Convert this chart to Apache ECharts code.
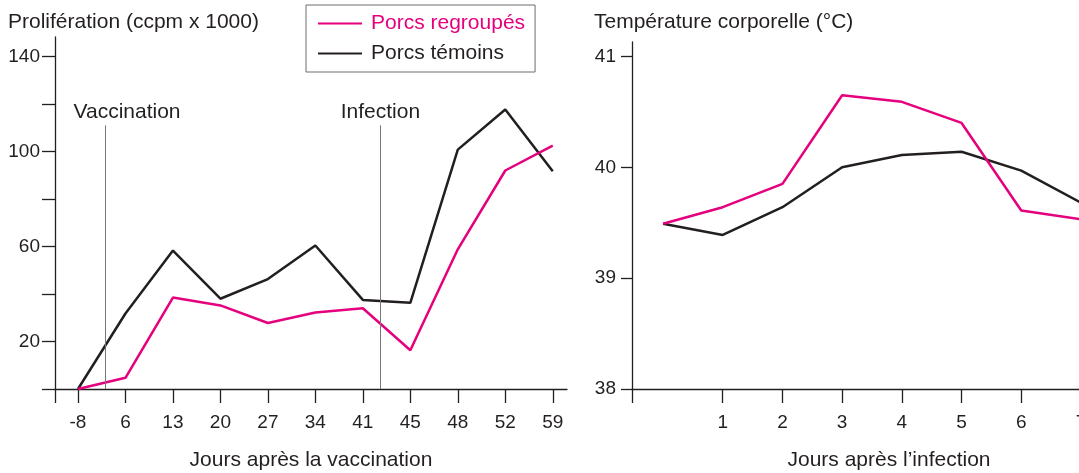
<!DOCTYPE html>
<html>
<head>
<meta charset="utf-8">
<script src="https://cdn.jsdelivr.net/npm/echarts@6/dist/echarts.min.js"></script>
<style>
  html, body { margin: 0; padding: 0; background: #fff; }
  #chart { width: 1079px; height: 473px; }
</style>
</head>
<body>
<div id="chart"></div>
<script>
// left panel: proliferation vs days after vaccination
const joursVaccination = ['-8', '6', '13', '20', '27', '34', '41', '45', '48', '52', '59'];
const prolifRegroupes = [0, 4.7, 38.5, 35.2, 27.8, 32.2, 34, 16.3, 58.8, 92, 102.5];
const prolifTemoins = [0, 31.8, 58.3, 38, 46.3, 60.4, 37.5, 36.3, 100.8, 117.7, 91.7];
const prolifTicks = [0, 20, 40, 60, 80, 100, 120, 140];
const prolifLabels = [20, 60, 100, 140];

// right panel: body temperature vs days after infection
const joursInfection = [0, 1, 2, 3, 4, 5, 6, 7];
const tempRegroupes = [39.49, 39.64, 39.85, 40.65, 40.59, 40.4, 39.61, 39.53];
const tempTemoins = [39.49, 39.39, 39.64, 40.0, 40.11, 40.14, 39.97, 39.68];
const tempTicks = [38, 39, 40, 41];
const tempXTicks = [1, 2, 3, 4, 5, 6, 7];

// events on the left panel (position in category index units)
const evenements = [
  { nom: 'Vaccination', x: 0.57, offset: 22 },
  { nom: 'Infection', x: 6.37, offset: 0 }
];

const PINK = '#e5007d';
const BLACK = '#231f20';
const FONT = 'Liberation Sans, Arial, sans-serif';
const FS = 21;

const chart = echarts.init(document.getElementById('chart'));

const xIdx = joursVaccination.map((_, i) => i);

const option = {
  animation: false,
  textStyle: { fontFamily: FONT, color: BLACK },
  title: [
    { text: 'Prolifération (ccpm x 1000)', left: 3, top: 7,
      textStyle: { fontFamily: FONT, fontSize: FS, fontWeight: 'normal', color: BLACK } },
    { text: 'Température corporelle (°C)', left: 589, top: 7,
      textStyle: { fontFamily: FONT, fontSize: FS, fontWeight: 'normal', color: BLACK } }
  ],
  legend: {
    left: 306, top: 5,
    orient: 'vertical',
    itemWidth: 44, itemHeight: 2, itemGap: 9,
    icon: 'rect',
    borderColor: '#6d6d6d', borderWidth: 1,
    padding: [8, 10, 8, 12],
    textStyle: { fontFamily: FONT, fontSize: FS, padding: [0, 0, 0, 4] },
    data: [
      { name: 'Porcs regroupés', textStyle: { color: PINK } },
      { name: 'Porcs témoins', textStyle: { color: BLACK } }
    ]
  },
  grid: [
    { left: 55, top: 37, width: 512, bottom: 84, containLabel: false, outerBoundsMode: 'none' },
    { left: 632, top: 42, width: 480, bottom: 84, containLabel: false, outerBoundsMode: 'none' }
  ],
  xAxis: [
    {
      type: 'value', gridIndex: 0, min: -0.484, max: 10.3,
      splitLine: { show: false },
      axisLine: { onZero: false, lineStyle: { color: BLACK, width: 1.3 } },
      axisTick: { length: 14, lineStyle: { color: BLACK, width: 1.3 },
        customValues: [-0.484].concat(xIdx) },
      axisLabel: { customValues: xIdx, margin: 24, fontSize: FS - 2, color: BLACK,
        formatter: v => joursVaccination[Math.round(v)] },
      name: 'Jours après la vaccination', nameLocation: 'middle', nameGap: 61,
      nameTextStyle: { fontSize: FS, color: BLACK }
    },
    {
      type: 'value', gridIndex: 1, min: -0.52, max: 7.52,
      splitLine: { show: false },
      axisLine: { onZero: false, lineStyle: { color: BLACK, width: 1.3 } },
      axisTick: { length: 14, lineStyle: { color: BLACK, width: 1.3 },
        customValues: [-0.52].concat(tempXTicks) },
      axisLabel: { customValues: tempXTicks, margin: 24, fontSize: FS - 2, color: BLACK },
      name: 'Jours après l\u2019infection', nameLocation: 'middle', nameGap: 61,
      nameTextStyle: { fontSize: FS, color: BLACK, padding: [0, 0, 0, 34] }
    }
  ],
  yAxis: [
    {
      type: 'value', gridIndex: 0, min: 0, max: 148.2,
      splitLine: { show: false },
      axisLine: { show: true, onZero: false, lineStyle: { color: BLACK, width: 1.3 } },
      axisTick: { show: true, length: 13, lineStyle: { color: BLACK, width: 1.3 },
        customValues: prolifTicks },
      axisLabel: { customValues: prolifLabels, margin: 15, fontSize: FS - 2, color: BLACK }
    },
    {
      type: 'value', gridIndex: 1, min: 38, max: 41.13,
      splitLine: { show: false },
      axisLine: { show: true, onZero: false, lineStyle: { color: BLACK, width: 1.3 } },
      axisTick: { show: true, length: 11, lineStyle: { color: BLACK, width: 1.3 },
        customValues: tempTicks },
      axisLabel: { customValues: tempTicks, margin: 16, fontSize: FS - 2, color: BLACK }
    }
  ],
  series: [
    {
      name: 'Porcs témoins', type: 'line', xAxisIndex: 0, yAxisIndex: 0,
      data: prolifTemoins.map((v, i) => [i, v]),
      symbol: 'none', color: BLACK, lineStyle: { width: 2.5 },
      markLine: {
        silent: true, symbol: 'none',
        lineStyle: { color: '#777', width: 1, type: 'solid' },
        data: evenements.map(e => [
          { coord: [e.x, 0] },
          { coord: [e.x, 111],
            label: { show: true, position: 'end', formatter: e.nom, offset: [e.offset, 0],
              fontFamily: FONT, fontSize: FS, color: BLACK, distance: 3 } }
        ])
      }
    },
    {
      name: 'Porcs regroupés', type: 'line', xAxisIndex: 0, yAxisIndex: 0,
      data: prolifRegroupes.map((v, i) => [i, v]),
      symbol: 'none', color: PINK, lineStyle: { width: 2.5 }
    },
    {
      name: 'Porcs témoins', type: 'line', xAxisIndex: 1, yAxisIndex: 1,
      data: tempTemoins.map((v, i) => [joursInfection[i], v]),
      symbol: 'none', color: BLACK, lineStyle: { width: 2.5 }
    },
    {
      name: 'Porcs regroupés', type: 'line', xAxisIndex: 1, yAxisIndex: 1,
      data: tempRegroupes.map((v, i) => [joursInfection[i], v]),
      symbol: 'none', color: PINK, lineStyle: { width: 2.5 }
    }
  ]
};

chart.setOption(option);
</script>
</body>
</html>
